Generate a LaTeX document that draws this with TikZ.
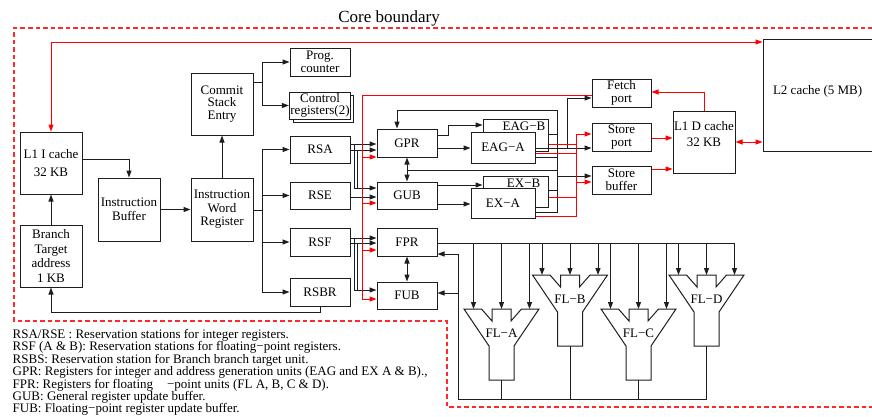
\documentclass[tikz,border=0pt]{standalone}
\usepackage{fontspec}
\setmainfont{Liberation Serif}
\usepackage{tikz}
\usetikzlibrary{arrows.meta,calc}
\definecolor{cpured}{HTML}{FF0000}
\definecolor{cpubound}{HTML}{FF2A2A}
\definecolor{cpuline}{HTML}{1E1E1E}
\tikzset{
  unit/.style={draw=cpuline, fill=white, line width=1pt, align=center, inner sep=1pt, font=\fontsize{13}{13.5}\selectfont},
  bigunit/.style={unit, minimum width=62, minimum height=62},
  regunit/.style={unit, minimum width=60, minimum height=28},
  every label/.style={font=\fontsize{13}{13.5}\selectfont},
  wire/.style={line width=1pt, draw=cpuline},
  flow/.style={wire, -{Triangle[length=7pt,width=5pt]}},
  both/.style={wire, {Triangle[length=7pt,width=5pt]}-{Triangle[length=7pt,width=5pt]}},
  rwire/.style={line width=1pt, draw=cpured},
  rflow/.style={rwire, -{Triangle[length=7pt,width=5pt]}},
  rboth/.style={rwire, {Triangle[length=7pt,width=5pt]}-{Triangle[length=7pt,width=5pt]}},
  bound/.style={draw=cpubound, line width=1.2pt, dash pattern=on 4.5pt off 3pt},
  info/.style={font=\fontsize{13}{12.4}\selectfont, inner sep=0pt}
}

\begin{document}
\begin{tikzpicture}[x=1pt, y=-1pt]
  \useasboundingbox (0,0) rectangle (872,416);
  \clip (0,0) rectangle (872,416);

  % core boundary
  \draw[bound] (880,28) -- (14,28) -- (14,321) -- (447,321) -- (447,407) -- (880,407);
  \node[font=\fontsize{17}{20}\selectfont] (title) at (389,18) {Core boundary};

  % front end
  \node[bigunit] (l1i) at (51,163) {L1 I cache\\[5pt]32 KB};
  \node[bigunit] (bta) at (51,256) {Branch\\[1pt]Target\\[1pt]address\\[1pt]1 KB};
  \node[bigunit, minimum height=63] (ib) at (129,209.5) {Instruction\\Buffer};
  \node[bigunit, minimum height=63] (iwr) at (222,209.5) {Instruction\\Word\\Register};
  \node[bigunit] (cse) at (222,104) {Commit\\[-1pt]Stack\\[-1pt]Entry};
  \node[regunit] (pc) at (320,62) {Prog.\\[-1pt]counter};
  \node[regunit, minimum height=27] (ctrlback) at (323,108.5) {};
  \node[regunit, minimum height=27] (ctrl) at (320,105.5) {Control\\[-1pt]registers(2)};

  % reservation stations
  \node[regunit, minimum height=27] (rsa) at (320,149.5) {RSA};
  \node[regunit, minimum height=27] (rse) at (320,195.5) {RSE};
  \node[regunit] (rsf) at (320,242) {RSF};
  \node[regunit] (rsbr) at (320,292) {RSBR};

  % register files
  \node[regunit] (gpr) at (407,143) {GPR};
  \node[regunit, minimum height=27] (gub) at (407,195.5) {GUB};
  \node[regunit] (fpr) at (407,242) {FPR};
  \node[regunit, minimum height=27] (fub) at (407,295.5) {FUB};

  % integer units
  \node[unit, minimum width=65, minimum height=32, label={[anchor=north east, inner sep=3pt]north east:EAG−B}] (eagb) at (515.5,135) {};
  \node[unit, minimum width=64, minimum height=31] (eaga) at (503,147.5) {EAG−A};
  \node[unit, minimum width=65, minimum height=31, label={[anchor=north east, inner sep=3pt, xshift=-5pt]north east:EX−B}] (exb) at (515.5,191.5) {};
  \node[unit, minimum width=64, minimum height=30] (exa) at (503,203) {EX−A};

  % memory side
  \node[unit, minimum width=59, minimum height=28] (fetch) at (621.5,93) {Fetch\\[-1pt]port};
  \node[unit, minimum width=59, minimum height=28] (sport) at (621.5,137) {Store\\[-1pt]port};
  \node[unit, minimum width=59, minimum height=28] (sbuf) at (621.5,180) {Store\\[-1pt]buffer};
  \node[bigunit] (l1d) at (704,142) {L1 D cache\\[3pt]32 KB\\[3pt]};
  \node[unit, minimum width=127, minimum height=112, label={[anchor=west, xshift=7pt, yshift=4pt]west:L2 cache (5 MB)}] (l2) at (826.5,95) {};

  % floating point units
  \foreach \cx/\ty/\nm in {501.5/309/A, 570/275/B, 638.5/309/C, 706.5/275/D} {
    \draw[wire, fill=white] (\cx-37.5,\ty) -- (\cx-20,\ty) -- (\cx-9.5,\ty+12) -- (\cx-9.5,\ty) -- (\cx+9.5,\ty) -- (\cx+9.5,\ty+12) -- (\cx+20,\ty) -- (\cx+37.5,\ty)
      -- (\cx+12.5,\ty+37) -- (\cx+12.5,\ty+71) -- (\cx-12.5,\ty+71) -- (\cx-12.5,\ty+37) -- cycle;
    \node[unit, draw=none, fill=none] (fl\nm) at (\cx,\ty+24) {FL−\nm};
    \foreach \dx in {-28,0,28}
      \draw[flow] (\cx+\dx,243) -- (\cx+\dx,\ty);
    \draw[wire] (\cx,\ty+71) -- (\cx,399);
  }
  \draw[wire] (fpr.east |- 0,243) -- (735,243);
  \draw[flow] (706.5,399) -- (458,399) |- (fpr.east |- 0,254);
  \draw[flow] (458,293) -- (fub.east |- 0,293);

  % front end wiring
  \draw[rboth] (l1i.north) |- (l2.west |- 0,42);
  \draw[flow] (l1i.east |- 0,159) -| (ib.north);
  \draw[flow] (bta) -- (l1i);
  \draw[flow] (ib) -- (iwr);
  \draw[flow] (iwr) -- (cse);
  \coordinate (csej) at (262,82);
  \draw[wire] (cse.east |- csej) -- (csej);
  \draw[flow] (csej) |- (pc);
  \draw[flow] (csej) |- (ctrl);
  \coordinate (iwrj) at (262,210);
  \draw[wire] (iwr.east |- iwrj) -- (iwrj);
  \foreach \rs in {rsa,rse,rsf,rsbr}
    \draw[flow] (iwrj) |- (\rs);
  \draw[flow] (rsbr.south) -- (rsbr.south |- 0,312) -| (bta.south);

  % issue to registers
  \draw[flow] (rsa.east |- 0,144) -- (gpr.west |- 0,144);
  \draw[flow] (rsa.east |- 0,150) -- (gpr.west |- 0,150);
  \draw[wire] (357,150) -- (357,188);
  \draw[flow] (354,144) |- (gub.west |- 0,188);
  \draw[flow] (rse.east |- 0,197) -- (gub.west |- 0,197);
  \draw[flow] (rsf.east |- 0,238) -- (fpr.west |- 0,238);
  \draw[flow] (rsf.east |- 0,243) -- (fpr.west |- 0,243);
  \draw[wire] (357,243) -- (357,290);
  \draw[flow] (354,238) |- (fub.west |- 0,290);
  \draw[both] (gpr) -- (gub);
  \draw[both] (fpr) -- (fub);

  % fetched data to registers
  \coordinate (rtop) at (362,95);
  \draw[rwire] (fetch.west |- rtop) -- (rtop);
  \draw[rflow] (rtop) |- (fub.west |- 0,299);
  \draw[rflow] (rtop |- 0,157) -- (gpr.west |- 0,157);
  \draw[rflow] (rtop |- 0,203) -- (gub.west |- 0,203);
  \draw[rflow] (rtop |- 0,250) -- (fpr.west |- 0,250);

  % execution units
  \draw[flow] (gpr.east |- 0,148) -- (eaga.west |- 0,148);
  \draw[flow] (gpr.east |- 0,135) -- (448,135) |- (eagb.west |- 0,125);
  \draw[flow] (gub.east |- 0,185) -- (exb.west |- 0,185);
  \draw[flow] (gub.east |- 0,204) -- (exa.west |- 0,204);

  % result bus
  \coordinate (bustop) at (557,110);
  \coordinate (busbot) at (557,213);
  \draw[flow] (busbot) -- (bustop) -| ([xshift=-10pt]gpr.north);
  \draw[wire] (eagb.east |- 0,134) -- (bustop |- 0,134);
  \draw[wire] (eaga.east |- 0,157) -- (bustop |- 0,157);
  \draw[wire] (exb.east |- 0,190) -- (bustop |- 0,190);
  \draw[wire] (exa.east |- 0,212) -- (busbot |- 0,212);
  \draw[wire] (bustop |- 0,170) -- (gpr.south |- 0,170);
  \draw[flow] (bustop |- 0,176) -- (sbuf.west |- 0,176);
  \draw[flow] (eaga.east |- 0,148) -- (sport.west |- 0,148);
  \draw[flow] (567,148) |- (fetch.west |- 0,98);

  % store data
  \coordinate (rbus) at (576,134);
  \draw[rwire] (exa.east |- 0,216) -| (rbus);
  \draw[rflow] (rbus) -- (sport.west |- rbus);
  \draw[rflow] (rbus |- 0,182) -- (sbuf.west |- 0,182);
  \draw[rwire] (eagb.east |- 0,144) -- (rbus |- 0,144);
  \draw[rwire] (eaga.east |- 0,153) -- (rbus |- 0,153);
  \draw[rwire] (exb.east |- 0,197) -- (rbus |- 0,197);

  % data cache
  \draw[rflow] (l1d.north) |- (fetch.east |- 0,92);
  \draw[rflow] (sport.east |- 0,138) -- (l1d.west |- 0,138);
  \draw[rflow] (sbuf.east |- 0,169) -- (l1d.west |- 0,169);
  \draw[rboth] (l1d.east |- 0,142) -- (l2.west |- 0,142);

  % legend
  \foreach \txt [count=\i from 0] in {
      {RSA/RSE : Reservation stations for integer registers.},
      {RSF (A \& B): Reservation stations for floating−point registers.},
      {RSBS: Reservation station for Branch branch target unit.},
      {GPR: Registers for integer and address generation units (EAG and EX A \& B).,},
      {FPR: Registers for floating\hspace{14pt}−point units (FL A, B, C \& D).},
      {GUB: General register update buffer.},
      {FUB: Floating−point register update buffer.}}
    \node[info, anchor=base west] (legend\i) at (12.5,338.5+12.4*\i) {\txt};
\end{tikzpicture}
\end{document}
